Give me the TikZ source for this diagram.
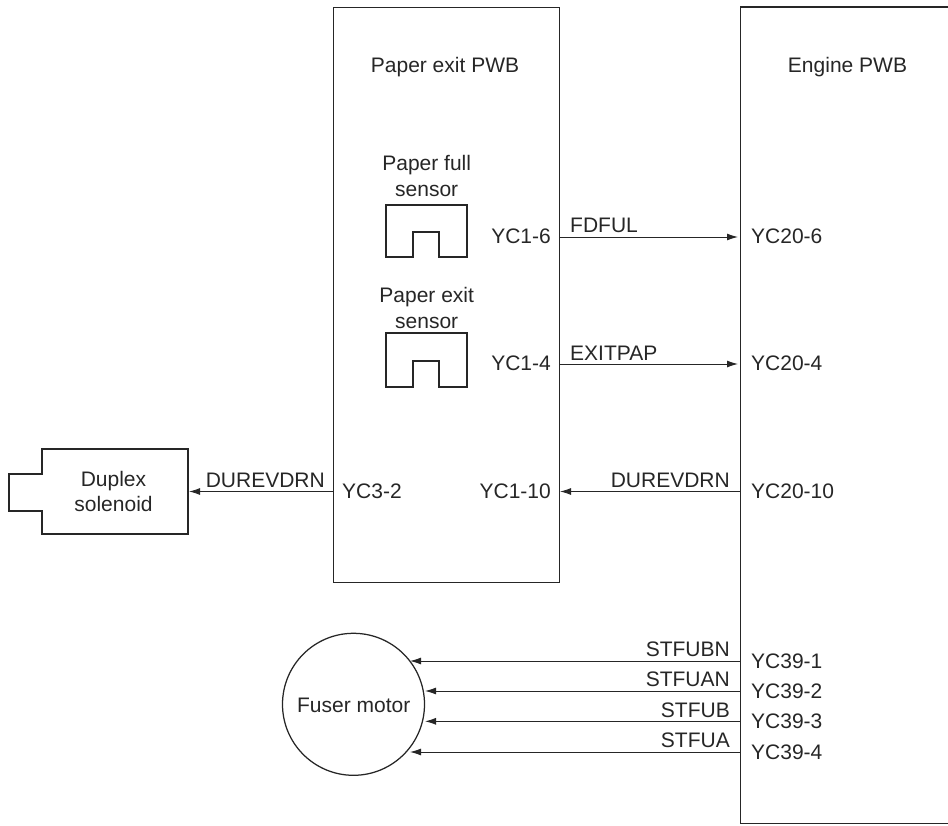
\documentclass[tikz,border=0pt]{standalone}
\usepackage{fontspec}
\setmainfont{Liberation Sans}
\usetikzlibrary{arrows.meta,shapes.geometric}
\definecolor{ink}{gray}{0.15}
\tikzset{
  x=1pt,y=-1pt,
  outline/.style={draw=ink,line width=1.25pt},
  board/.style={draw=ink,line width=1.4pt},
  lbl/.style={text=ink,font=\fontsize{21}{25.2}\selectfont,inner sep=0pt,align=center},
  wire/.style={draw=ink,line width=0.9pt,-{Latex[length=11pt,width=7pt]}}
}
\begin{document}
\begin{tikzpicture}
\useasboundingbox (0,0) rectangle (948,825);
% boards
\node[board,anchor=north west,minimum width=226pt,minimum height=575pt,inner sep=0pt] (exit) at (333,7) {};
\coordinate (engTL) at (740.5,7);
\coordinate (engTR) at (948,7);
\coordinate (engBL) at (740.5,823.5);
\coordinate (engBR) at (948,823.5);
\draw[board] (engTR) -- (engTL) -- (engBL) -- (engBR);
\node[lbl,anchor=base] (exitT) at (445,72.5) {Paper exit PWB};
\node[lbl,anchor=base] (engT) at (847.5,72.5) {Engine PWB};
% sensors
\node[lbl,anchor=base] (s1T) at (426.7,196) {Paper full\\sensor};
\node[lbl,anchor=base] (s2T) at (426.7,328) {Paper exit\\sensor};
\draw[outline] (386,257) -- (386,205) -- (467,205) -- (467,257) -- (439,257) -- (439,232) -- (413,232) -- (413,257) -- cycle;
\draw[outline] (386,387) -- (386,333) -- (467,333) -- (467,387) -- (439,387) -- (439,361) -- (413,361) -- (413,387) -- cycle;
% solenoid
\draw[outline] (42,449) -- (188,449) -- (188,534) -- (42,534) -- (42,511) -- (9,511) -- (9,474) -- (42,474) -- cycle;
\node[lbl,anchor=base] (dup) at (113.5,511.5) {Duplex\\solenoid};
\coordinate (dupR) at (189,491.5);
% motor
\node[circle,outline,minimum size=142pt,inner sep=0pt] (motor) at (353.5,704.3) {};
\node[lbl,anchor=base] (motorT) at (353.7,712.5) {Fuser motor};
% connector ends
\coordinate (a1) at (559,237); \coordinate (b1) at (738,237);
\coordinate (a2) at (559,364); \coordinate (b2) at (738,364);
\coordinate (a3) at (740,491.5); \coordinate (b3) at (560,491.5);
\coordinate (a4) at (333,491.5);
\coordinate (m1) at (740,661); \coordinate (t1) at (410,661);
\coordinate (m2) at (740,691); \coordinate (t2) at (425,691);
\coordinate (m3) at (740,721.3); \coordinate (t3) at (425,721.3);
\coordinate (m4) at (740,752); \coordinate (t4) at (410,752);
\draw[wire] (a1) -- (b1);
\draw[wire] (a2) -- (b2);
\draw[wire] (a3) -- (b3);
\draw[wire] (a4) -- (dupR);
\draw[wire] (m1) -- (t1);
\draw[wire] (m2) -- (t2);
\draw[wire] (m3) -- (t3);
\draw[wire] (m4) -- (t4);
% signal names
\node[lbl,anchor=base west] (l1) at (570,232.5) {FDFUL};
\node[lbl,anchor=base west] (l2) at (570,360) {EXITPAP};
\node[lbl,anchor=base east] (l3) at (730,487) {DUREVDRN};
\node[lbl,anchor=base east] (l4) at (325,487) {DUREVDRN};
\node[lbl,anchor=base east] (l5) at (730,656.7) {STFUBN};
\node[lbl,anchor=base east] (l6) at (730,686.7) {STFUAN};
\node[lbl,anchor=base east] (l7) at (730,717.7) {STFUB};
\node[lbl,anchor=base east] (l8) at (730,747.7) {STFUA};
% connector names
\node[lbl,anchor=base east] (c1) at (551,243.5) {YC1-6};
\node[lbl,anchor=base east] (c2) at (551,370.5) {YC1-4};
\node[lbl,anchor=base east] (c3) at (551,498) {YC1-10};
\node[lbl,anchor=base west] (c4) at (342,498) {YC3-2};
\node[lbl,anchor=base west] (c5) at (751,243.5) {YC20-6};
\node[lbl,anchor=base west] (c6) at (751,370.5) {YC20-4};
\node[lbl,anchor=base west] (c7) at (751,498) {YC20-10};
\node[lbl,anchor=base west] (c8) at (751,668.3) {YC39-1};
\node[lbl,anchor=base west] (c9) at (751,698.3) {YC39-2};
\node[lbl,anchor=base west] (c10) at (751,728.3) {YC39-3};
\node[lbl,anchor=base west] (c11) at (751,759) {YC39-4};
\end{tikzpicture}
\end{document}
